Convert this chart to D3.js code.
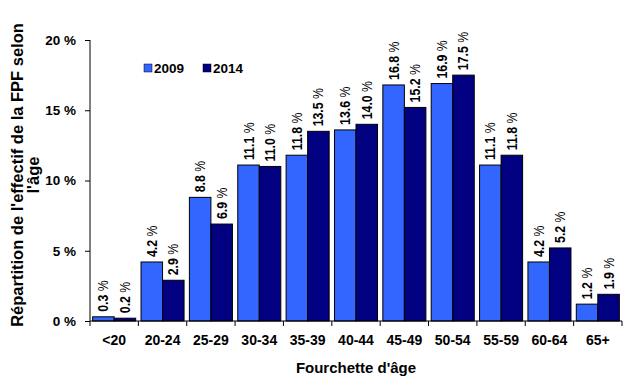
<!DOCTYPE html>
<html>
  <head>
    <meta charset="utf-8">
    <script src="https://d3js.org/d3.v7.min.js"></script>
    <title>Répartition par âge</title>
    <style>
      body {
        margin: 0px;
        background: #fff;
      }
      text {
        font-family: 'Liberation Sans', Arial, sans-serif;
        font-weight: bold;
        fill: #000;
      }
      .axis .domain, .axis line {
        stroke: #000;
      }
      .axis text {
        font-size: 13.5px;
      }
    </style>
  </head>
  <body>
    <svg width="631" height="383"></svg>
    <script>
      const categories = ['<20', '20-24', '25-29', '30-34', '35-39', '40-44', '45-49', '50-54', '55-59', '60-64', '65+'];
      const seriesNames = ['2009', '2014'];
      const values2009 = [0.3, 4.2, 8.8, 11.1, 11.8, 13.6, 16.8, 16.9, 11.1, 4.2, 1.2];
      const values2014 = [0.2, 2.9, 6.9, 11.0, 13.5, 14.0, 15.2, 17.5, 11.8, 5.2, 1.9];
      const yTicks = [0, 5, 10, 15, 20];
      const colors = ['#3366FF', '#000080'];

      const margin = { left: 90, right: 9, top: 40, bottom: 62 };
      const svg = d3.select('svg');
      const width = +svg.attr('width');
      const height = +svg.attr('height');
      const innerWidth = width - margin.left - margin.right;
      const innerHeight = height - margin.top - margin.bottom;

      const data = categories.map((c, i) => ({ cat: c, values: [values2009[i], values2014[i]] }));

      const x = d3.scaleBand().domain(categories).range([0, innerWidth]).paddingInner(0.11).paddingOuter(0.055);
      const xSub = d3.scaleBand().domain(seriesNames).range([0, x.bandwidth()]);
      const y = d3.scaleLinear().domain([0, 20]).range([innerHeight, 0]);

      const g = svg.append('g')
          .attr('transform', `translate(${margin.left},${margin.top})`);

      // bars
      const groups = g.selectAll('.grp').data(data)
        .enter().append('g')
          .attr('class', 'grp')
          .attr('transform', d => `translate(${x(d.cat)},0)`);

      groups.selectAll('rect')
        .data(d => d.values.map((v, i) => ({ v, s: seriesNames[i], i })))
        .enter().append('rect')
          .attr('x', d => xSub(d.s))
          .attr('y', d => y(d.v))
          .attr('width', xSub.bandwidth())
          .attr('height', d => innerHeight - y(d.v))
          .attr('fill', d => colors[d.i])
          .attr('stroke', '#000')
          .attr('stroke-width', 1);

      // value labels (narrow glyphs like the original)
      const lbl = groups.selectAll('.val')
        .data(d => d.values.map((v, i) => ({ v, s: seriesNames[i] })))
        .enter().append('text')
          .attr('class', 'val')
          .attr('transform', d => `translate(${xSub(d.s) + xSub.bandwidth() / 2 + 5},${y(d.v) - 5}) rotate(-90) scale(0.88,1)`)
          .style('font-size', '14px');
      lbl.append('tspan').text(d => d.v.toFixed(1));
      lbl.append('tspan').style('font-weight', 'normal').text(' %');

      // axes
      const xAxis = g.append('g')
          .attr('class', 'axis')
          .attr('transform', `translate(0,${innerHeight})`)
          .call(d3.axisBottom(x).tickSize(0).tickPadding(14));
      xAxis.selectAll('.tick text').style('font-size', '14px');
      xAxis.select('.domain').attr('d', `M0,0H${innerWidth}`);
      // tick marks at category boundaries
      const bounds = d3.range(categories.length + 1).map(i => i * x.step());
      xAxis.selectAll('.bound').data(bounds)
        .enter().append('line')
          .attr('class', 'bound')
          .attr('x1', d => d).attr('x2', d => d)
          .attr('y1', 0).attr('y2', 5)
          .attr('stroke', '#000');

      const yAxis = g.append('g')
          .attr('class', 'axis')
          .call(d3.axisLeft(y).tickValues(yTicks).tickSize(5).tickSizeOuter(0).tickPadding(9)
            .tickFormat(d => d + ' %'));
      yAxis.select('.domain').attr('d', `M0,${innerHeight}V0`);

      // axis titles
      svg.append('text')
          .attr('x', margin.left + innerWidth / 2)
          .attr('y', 373)
          .attr('text-anchor', 'middle')
          .style('font-size', '15px')
          .text("Fourchette d'âge");

      const yTitle = svg.append('text')
          .attr('transform', `translate(23,175) rotate(-90)`)
          .attr('text-anchor', 'middle')
          .style('font-size', '16.5px');
      yTitle.append('tspan').attr('x', 0).attr('dy', 0).text("Répartition de l'effectif de la FPF selon");
      yTitle.append('tspan').attr('x', 0).attr('dy', 16).text("l'âge");

      // legend
      const legend = svg.append('g')
          .attr('transform', 'translate(144,64)');
      const li = legend.selectAll('g').data(seriesNames)
        .enter().append('g')
          .attr('transform', (d, i) => `translate(${i * 59},0)`);
      li.append('rect')
          .attr('width', 8).attr('height', 8)
          .attr('fill', (d, i) => colors[i])
          .attr('stroke', '#000').attr('stroke-width', 0.5);
      li.append('text')
          .attr('x', 10).attr('y', 9)
          .style('font-size', '13.5px')
          .text(d => d);
    </script>
  </body>
</html>
